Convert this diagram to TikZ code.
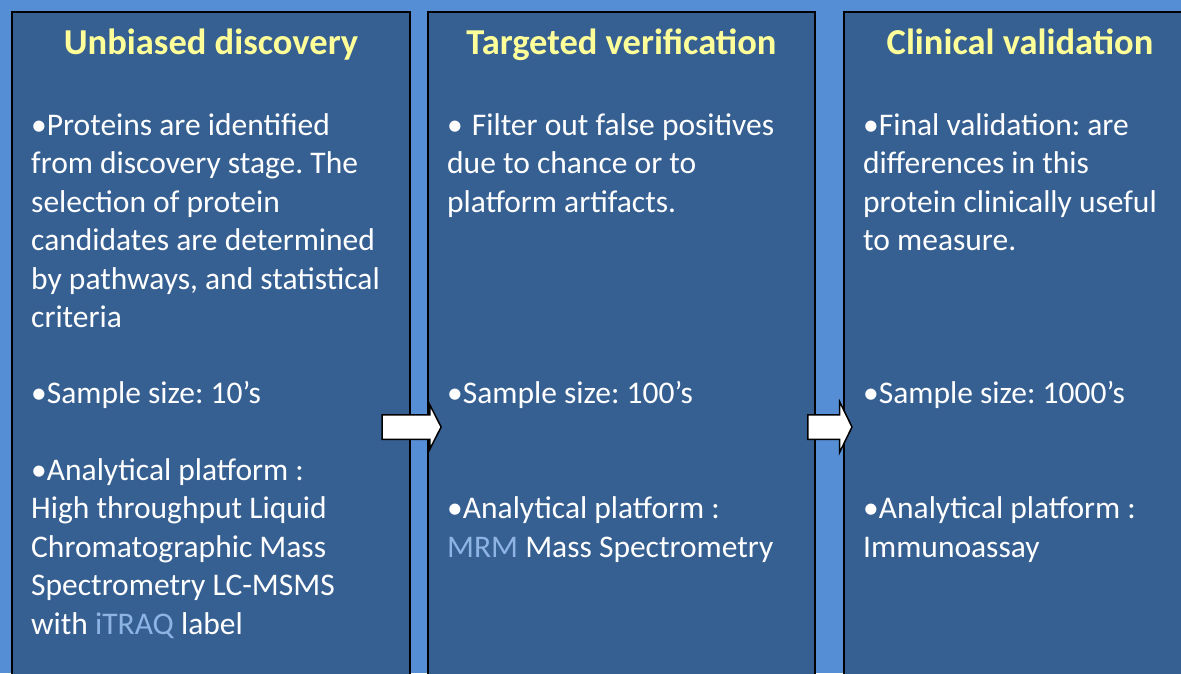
\documentclass[tikz,border=0pt]{standalone}
\usepackage{fontspec}
\setmainfont{Carlito}
\frenchspacing
\usetikzlibrary{shapes.arrows}

\definecolor{bgblue}{HTML}{558ED5}
\definecolor{panelblue}{HTML}{376092}
\definecolor{titleyellow}{HTML}{FFFF99}
\definecolor{tagblue}{HTML}{8EB4E3}

\tikzset{
    panel/.style = {draw = black, line width = 2pt, fill = panelblue, anchor = north west, inner sep = 0pt},
    stagetitle/.style = {text = titleyellow, font = \fontsize{36.5}{40}\selectfont\bfseries, anchor = base, inner sep = 0pt},
    bodytext/.style = {text = white, font = \fontsize{31.5}{38.5}\selectfont, anchor = base west, align = left, inner sep = 0pt},
    blockarrow/.style = {single arrow, draw = black, line width = 1.5pt, fill = white,
        inner xsep = 0pt, inner ysep = 11.5pt, minimum height = #1},
}

\begin{document}
\begin{tikzpicture}[x = 1pt, y = -1pt]
        \fill[bgblue] (0, 0) rectangle (1181, 673);
        \useasboundingbox (0, 0) rectangle (1181, 673);
        \clip (0, 0) rectangle (1181, 673);
        % the three stages
        \node[panel, minimum width = 398, minimum height = 700] (disc) at (11, 11) {};
        \node[panel, minimum width = 387, minimum height = 700] (verif) at (427, 11) {};
        \node[panel, minimum width = 352, minimum height = 700] (clin) at (843, 11) {};
        \node[stagetitle] (disc-title) at ([yshift = -43pt]disc.north) {Unbiased discovery};
        \node[stagetitle] (verif-title) at ([yshift = -43pt]verif.north) {Targeted verification};
        \node[stagetitle] (clin-title) at ([yshift = -43pt]clin.north) {Clinical validation};
        % discovery (anchored on the last line)
        \node[bodytext] (disc-aim) at ([xshift = 20pt, yshift = -316.5pt]disc.north west)
            {•Proteins are identified\\ from discovery stage. The\\ selection of protein\\ candidates are determined\\ by pathways, and statistical\\ criteria};
        \node[bodytext] (disc-size) at ([xshift = 20pt, yshift = -392pt]disc.north west) {•Sample size: 10’s};
        \node[bodytext] (disc-tool) at ([xshift = 20pt, yshift = -623pt]disc.north west)
            {•Analytical platform :\\ High throughput Liquid\\ Chromatographic Mass\\ Spectrometry LC-MSMS\\ with \textcolor{tagblue}{iTRAQ} label};
        % verification
        \node[bodytext] (verif-aim) at ([xshift = 20pt, yshift = -201pt]verif.north west)
            {•\hspace{9pt}Filter out false positives\\ due to chance or to\\ platform artifacts.};
        \node[bodytext] (verif-size) at ([xshift = 20pt, yshift = -392pt]verif.north west) {•Sample size: 100’s};
        \node[bodytext] (verif-tool) at ([xshift = 20pt, yshift = -546pt]verif.north west)
            {•Analytical platform :\\ \textcolor{tagblue}{MRM} Mass Spectrometry};
        % validation
        \node[bodytext] (clin-aim) at ([xshift = 20pt, yshift = -239.5pt]clin.north west)
            {•Final validation: are\\ differences in this\\ protein clinically useful\\ to measure.};
        \node[bodytext] (clin-size) at ([xshift = 20pt, yshift = -392pt]clin.north west) {•Sample size: 1000’s};
        \node[bodytext] (clin-tool) at ([xshift = 20pt, yshift = -546pt]clin.north west)
            {•Analytical platform :\\ Immunoassay};
        % arrows between stages
        \node[blockarrow = 59pt, single arrow head extend = 10pt, single arrow tip angle = 126] (step-a) at (408.5, 427) {};
        \node[blockarrow = 44pt, single arrow head extend = 13pt, single arrow tip angle = 128] (step-b) at (827, 427) {};
    \end{tikzpicture}
\end{document}
